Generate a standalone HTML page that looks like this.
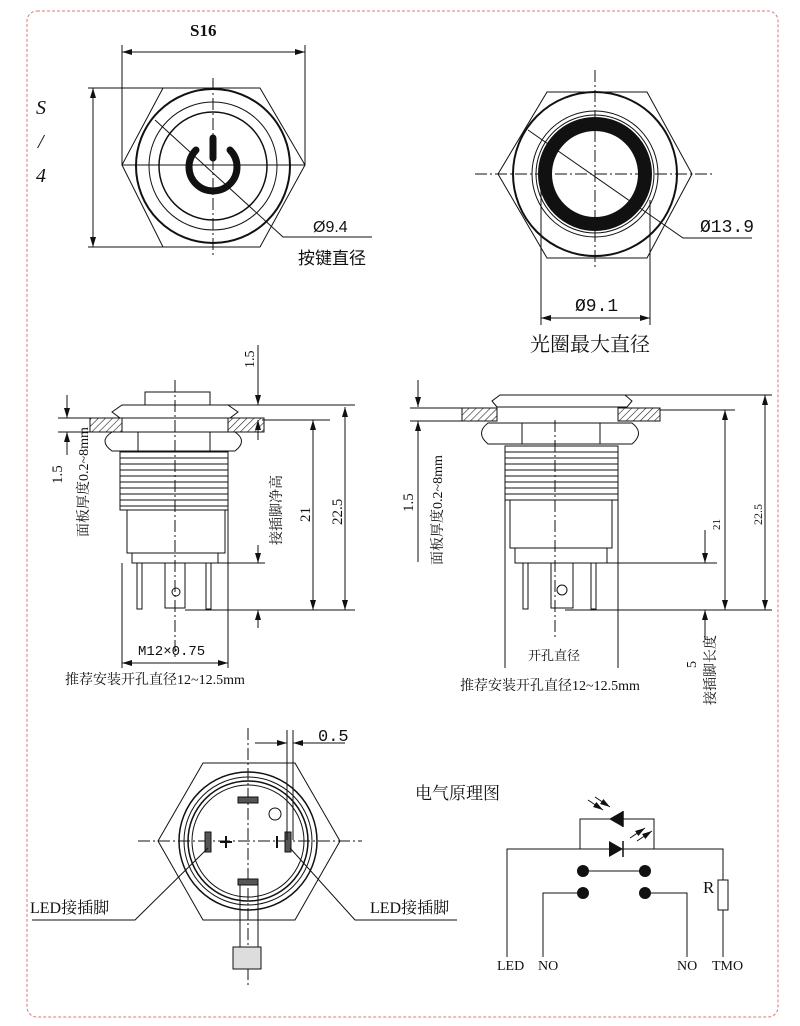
<!DOCTYPE html>
<html><head><meta charset="utf-8"><style>
html,body{margin:0;padding:0;background:#fff;}
svg{display:block;}
text{font-family:"Liberation Serif","Noto Serif CJK SC","Noto Sans CJK SC",serif;fill:#111;}
</style></head><body>
<svg width="800" height="1026" viewBox="0 0 800 1026" xmlns="http://www.w3.org/2000/svg">
<defs>
<marker id="a" viewBox="0 0 10 6" refX="10" refY="3" markerWidth="10" markerHeight="6" orient="auto-start-reverse"><path d="M0,0L10,3L0,6z" fill="#111"/></marker>
<pattern id="h" width="5" height="5" patternUnits="userSpaceOnUse" patternTransform="rotate(45)"><line x1="0" y1="0" x2="0" y2="5" stroke="#222" stroke-width="1.2"/></pattern>
</defs>
<rect x="27" y="11" width="751" height="1006" rx="10" fill="none" stroke="#d77" stroke-width="1" stroke-dasharray="3,2"/>

<g stroke="#111" fill="none" stroke-width="1">
<!-- Top-left view -->
<polygon points="163,88 260,88 305,165 260,247 163,247 122,165"/>
<circle cx="213" cy="166" r="77" stroke-width="2"/>
<circle cx="213" cy="166" r="64"/>
<circle cx="213" cy="166" r="54" stroke-width="1.5"/>
<line x1="213" y1="78" x2="213" y2="255" stroke-dasharray="12,3,2,3"/>
<line x1="122" y1="165" x2="305" y2="165"/>
<path d="M196,150 A24,24 0 1 0 230,150" stroke-width="7" stroke-linecap="round"/>
<line x1="213" y1="138" x2="213" y2="158" stroke-width="7" stroke-linecap="round"/>
<polyline points="155,120 283,237 372,237"/>
<line x1="122" y1="52" x2="305" y2="52" marker-start="url(#a)" marker-end="url(#a)"/>
<line x1="122" y1="45" x2="122" y2="165"/><line x1="305" y1="45" x2="305" y2="165"/>
<line x1="93" y1="88" x2="93" y2="247" marker-start="url(#a)" marker-end="url(#a)"/>
<line x1="88" y1="88" x2="163" y2="88"/><line x1="88" y1="247" x2="163" y2="247"/>

<!-- Top-right view -->
<polygon points="547,92 647,92 692,174 647,258 547,258 498,174"/>
<circle cx="595" cy="174" r="82" stroke-width="2"/>
<circle cx="595" cy="174" r="63"/>
<circle cx="595" cy="174" r="59"/>
<circle cx="595" cy="174" r="50" stroke-width="14"/>
<line x1="595" y1="70" x2="595" y2="270" stroke-dasharray="12,3,2,3"/>
<line x1="475" y1="174" x2="715" y2="174" stroke-dasharray="12,3,2,3"/>
<polyline points="528,130 683,238 752,238"/>
<line x1="541" y1="180" x2="541" y2="325"/><line x1="650" y1="200" x2="650" y2="325"/>
<line x1="541" y1="318" x2="650" y2="318" marker-start="url(#a)" marker-end="url(#a)"/>

<!-- Middle-left side view -->
<line x1="175" y1="380" x2="175" y2="660" stroke-dasharray="12,3,2,3"/>
<rect x="145" y="392" width="65" height="13"/>
<path d="M120,418 L112,412 L122,405 L228,405 L238,412 L230,418 Z"/>
<rect x="90" y="418" width="32" height="14" fill="url(#h)"/>
<rect x="228" y="418" width="36" height="14" fill="url(#h)"/>
<path d="M112,432 L235,432 Q248,441 235,451 L112,451 Q98,441 112,432 Z"/>
<line x1="138" y1="432" x2="138" y2="451"/><line x1="210" y1="432" x2="210" y2="451"/>
<rect x="120" y="452" width="108" height="58"/>
<g stroke-width="0.9"><line x1="120" y1="458" x2="228" y2="458"/><line x1="120" y1="464" x2="228" y2="464"/><line x1="120" y1="470" x2="228" y2="470"/><line x1="120" y1="476" x2="228" y2="476"/><line x1="120" y1="482" x2="228" y2="482"/><line x1="120" y1="488" x2="228" y2="488"/><line x1="120" y1="494" x2="228" y2="494"/><line x1="120" y1="500" x2="228" y2="500"/><line x1="120" y1="506" x2="228" y2="506"/></g>
<rect x="127" y="510" width="98" height="43"/>
<rect x="132" y="553" width="86" height="10"/>
<rect x="137" y="563" width="5" height="46"/><rect x="206" y="563" width="5" height="46"/>
<rect x="165" y="563" width="20" height="45"/><circle cx="176" cy="592" r="4"/>
<line x1="258" y1="345" x2="258" y2="405" marker-end="url(#a)"/>
<line x1="258" y1="420" x2="258" y2="440" marker-start="url(#a)"/>
<line x1="258" y1="545" x2="258" y2="563" marker-end="url(#a)"/>
<line x1="258" y1="610" x2="258" y2="628" marker-start="url(#a)"/>
<line x1="210" y1="405" x2="355" y2="405"/>
<line x1="262" y1="420" x2="330" y2="420"/>
<line x1="218" y1="563" x2="265" y2="563"/>
<line x1="185" y1="610" x2="355" y2="610"/>
<line x1="313" y1="420" x2="313" y2="610" marker-start="url(#a)" marker-end="url(#a)"/>
<line x1="345" y1="407" x2="345" y2="610" marker-start="url(#a)" marker-end="url(#a)"/>
<line x1="67" y1="395" x2="67" y2="418" marker-end="url(#a)"/>
<line x1="67" y1="432" x2="67" y2="455" marker-start="url(#a)"/>
<line x1="58" y1="418" x2="90" y2="418"/><line x1="58" y1="432" x2="100" y2="432"/>
<line x1="122" y1="563" x2="122" y2="668"/><line x1="228" y1="500" x2="228" y2="668"/>
<line x1="122" y1="663" x2="228" y2="663" marker-start="url(#a)" marker-end="url(#a)"/>

<!-- Middle-right side view -->
<line x1="555" y1="420" x2="555" y2="640" stroke-dasharray="12,3,2,3"/>
<path d="M497,407 L492,401 L500,395 L625,395 L632,401 L627,407 Z"/>
<rect x="462" y="408" width="35" height="13" fill="url(#h)"/>
<rect x="618" y="408" width="42" height="13" fill="url(#h)"/>
<path d="M488,423 L632,423 Q645,433 632,444 L488,444 Q475,433 488,423 Z"/>
<line x1="522" y1="423" x2="522" y2="444"/><line x1="600" y1="423" x2="600" y2="444"/>
<rect x="505" y="446" width="113" height="54"/>
<g stroke-width="0.9"><line x1="505" y1="452" x2="618" y2="452"/><line x1="505" y1="458" x2="618" y2="458"/><line x1="505" y1="464" x2="618" y2="464"/><line x1="505" y1="470" x2="618" y2="470"/><line x1="505" y1="476" x2="618" y2="476"/><line x1="505" y1="482" x2="618" y2="482"/><line x1="505" y1="488" x2="618" y2="488"/><line x1="505" y1="494" x2="618" y2="494"/></g>
<rect x="510" y="500" width="102" height="48"/>
<rect x="515" y="548" width="92" height="15"/>
<rect x="523" y="563" width="5" height="46"/><rect x="591" y="563" width="5" height="46"/>
<rect x="551" y="563" width="22" height="45"/><circle cx="562" cy="590" r="5"/>
<line x1="625" y1="395" x2="772" y2="395"/>
<line x1="660" y1="410" x2="735" y2="410"/>
<line x1="607" y1="563" x2="717" y2="563"/>
<line x1="565" y1="610" x2="772" y2="610"/>
<line x1="725" y1="410" x2="725" y2="610" marker-start="url(#a)" marker-end="url(#a)"/>
<line x1="765" y1="395" x2="765" y2="610" marker-start="url(#a)" marker-end="url(#a)"/>
<line x1="705" y1="530" x2="705" y2="563" marker-end="url(#a)"/>
<line x1="705" y1="610" x2="705" y2="640" marker-start="url(#a)"/>
<line x1="418" y1="380" x2="418" y2="407" marker-end="url(#a)"/>
<line x1="418" y1="421" x2="418" y2="562" marker-start="url(#a)"/>
<line x1="410" y1="408" x2="470" y2="408"/><line x1="410" y1="421" x2="480" y2="421"/>
<line x1="505" y1="500" x2="505" y2="668"/><line x1="618" y1="500" x2="618" y2="668"/>

<!-- Bottom-left view -->
<polygon points="203,763 295,763 340,841 295,920 203,920 158,841"/>
<circle cx="248" cy="841" r="69" stroke-width="1.5"/>
<circle cx="248" cy="841" r="64"/>
<circle cx="248" cy="841" r="60" stroke-width="1.5"/>
<circle cx="248" cy="841" r="56"/>
<line x1="248" y1="728" x2="248" y2="985" stroke-dasharray="12,3,2,3"/>
<line x1="138" y1="841" x2="362" y2="841" stroke-dasharray="12,3,2,3"/>
<rect x="238" y="797" width="20" height="6" fill="#555"/>
<rect x="238" y="879" width="20" height="6" fill="#555"/>
<rect x="205" y="832" width="6" height="20" fill="#555"/>
<rect x="285" y="832" width="6" height="20" fill="#555"/>
<line x1="220" y1="842" x2="232" y2="842" stroke-width="2"/><line x1="226" y1="836" x2="226" y2="848" stroke-width="2"/>
<line x1="277" y1="836" x2="277" y2="848" stroke-width="2"/>
<circle cx="275" cy="814" r="6"/>
<rect x="240" y="885" width="18" height="62"/>
<rect x="233" y="947" width="28" height="22" fill="#ddd"/>
<line x1="287" y1="730" x2="287" y2="840"/><line x1="293" y1="730" x2="293" y2="840"/>
<line x1="255" y1="743" x2="287" y2="743" marker-end="url(#a)"/>
<line x1="293" y1="743" x2="345" y2="743" marker-start="url(#a)"/>
<polyline points="208,848 135,920 32,920"/>
<polyline points="290,848 355,920 457,920"/>

<!-- Circuit -->
<polyline points="507,957 507,849 723,849 723,880"/>
<rect x="718" y="880" width="10" height="30"/>
<line x1="723" y1="910" x2="723" y2="957"/>
<polyline points="580,849 580,819 654,819 654,849"/>
<line x1="583" y1="871" x2="645" y2="871"/>
<polyline points="583,893 543,893 543,957"/>
<polyline points="645,893 687,893 687,957"/>
<line x1="623" y1="811" x2="623" y2="827" stroke-width="1.5"/>
<line x1="623" y1="841" x2="623" y2="857" stroke-width="1.5"/>
<line x1="588" y1="800" x2="603" y2="810" marker-end="url(#a)"/>
<line x1="595" y1="797" x2="610" y2="807" marker-end="url(#a)"/>
<line x1="630" y1="838" x2="645" y2="828" marker-end="url(#a)"/>
<line x1="637" y1="841" x2="652" y2="831" marker-end="url(#a)"/>
</g>
<g fill="#111">
<polygon points="609,819 623,811 623,827"/>
<polygon points="609,841 609,857 623,849"/>
<circle cx="583" cy="871" r="6"/><circle cx="645" cy="871" r="6"/>
<circle cx="583" cy="893" r="6"/><circle cx="645" cy="893" r="6"/>
</g>

<!-- Text -->
<text x="190" y="36" font-size="17" font-weight="bold">S16</text>
<text x="36" y="114" font-size="20" font-style="italic">S</text>
<text x="38" y="148" font-size="20" font-style="italic">/</text>
<text x="36" y="182" font-size="20" font-style="italic">4</text>
<text x="313" y="232" font-size="16" style="font-family:'Liberation Sans',sans-serif">Ø9.4</text>
<text x="298" y="264" font-size="17" style="font-family:'Liberation Sans','Noto Sans CJK SC',sans-serif">按键直径</text>
<text x="700" y="232" font-size="18" style="font-family:'Liberation Mono',monospace">Ø13.9</text>
<text x="575" y="311" font-size="18" style="font-family:'Liberation Mono',monospace">Ø9.1</text>
<text x="530" y="351" font-size="20">光圈最大直径</text>
<text transform="translate(254,368) rotate(-90)" font-size="14">1.5</text>
<text transform="translate(342,525) rotate(-90)" font-size="15">22.5</text>
<text transform="translate(310,522) rotate(-90)" font-size="15">21</text>
<text transform="translate(281,545) rotate(-90)" font-size="14">接插脚净高</text>
<text transform="translate(62,484) rotate(-90)" font-size="15">1.5</text>
<text transform="translate(88,537) rotate(-90)" font-size="14">面板厚度0.2~8mm</text>
<text x="138" y="655" font-size="14" style="font-family:'Liberation Mono',monospace">M12×0.75</text>
<text x="65" y="684" font-size="14">推荐安装开孔直径12~12.5mm</text>
<text transform="translate(413,512) rotate(-90)" font-size="15">1.5</text>
<text transform="translate(442,565) rotate(-90)" font-size="14">面板厚度0.2~8mm</text>
<text x="528" y="660" font-size="13" fill="#555">开孔直径</text>
<text x="460" y="690" font-size="14">推荐安装开孔直径12~12.5mm</text>
<text transform="translate(720,530) rotate(-90)" font-size="11" fill="#555">21</text>
<text transform="translate(762,525) rotate(-90)" font-size="12">22.5</text>
<text transform="translate(696,668) rotate(-90)" font-size="14">5</text>
<text transform="translate(715,705) rotate(-90)" font-size="14">接插脚长度</text>
<text x="318" y="741" font-size="17" style="font-family:'Liberation Mono',monospace">0.5</text>
<text x="30" y="913" font-size="16">LED接插脚</text>
<text x="370" y="913" font-size="16">LED接插脚</text>
<text x="415" y="799" font-size="17">电气原理图</text>
<text x="703" y="893" font-size="17">R</text>
<text x="497" y="970" font-size="14">LED</text>
<text x="538" y="970" font-size="14">NO</text>
<text x="677" y="970" font-size="14">NO</text>
<text x="712" y="970" font-size="14">TMO</text>
</svg>
</body></html>
